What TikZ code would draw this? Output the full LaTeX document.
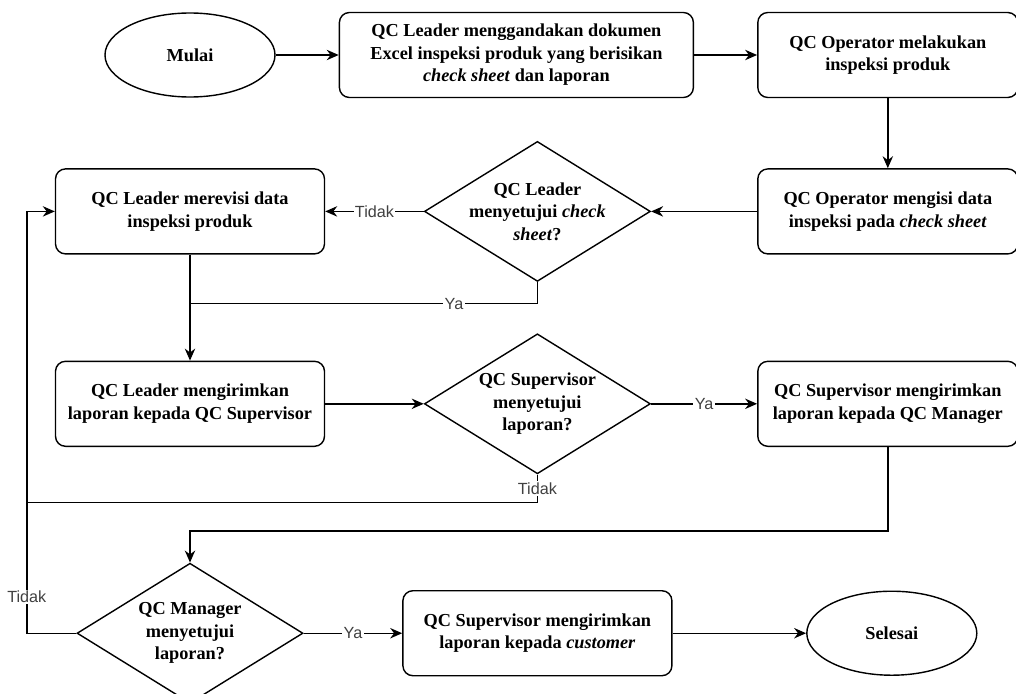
\documentclass[tikz,border=0pt]{standalone}
\usepackage{fontspec}
\setmainfont{Liberation Serif}
\setsansfont{Liberation Sans}
\usetikzlibrary{arrows.meta,positioning,calc,shapes.geometric}

\begin{document}
\begin{tikzpicture}[line width=1pt,
  box/.style={draw, rounded corners=0.25cm, minimum width=#1, minimum height=2.125cm, align=center, inner sep=2pt, font=\bfseries\fontsize{13}{16}\selectfont},
  box/.default=6.5cm,
  term/.style={draw, ellipse, minimum width=4.25cm, minimum height=2.1cm, font=\bfseries\fontsize{13}{16}\selectfont},
  dec/.style={draw, diamond, aspect=1.6, inner ysep=0pt, inner xsep=-0.3cm, minimum width=5.65cm, minimum height=3.5cm, align=center, font=\bfseries\fontsize{13}{16}\selectfont},
  ar/.style={-{Stealth[length=3mm, width=2.6mm]}},
  lbl/.style={fill=white, inner sep=1pt, font=\sffamily\fontsize{11.5}{13}\selectfont, text=black!75}]
\useasboundingbox (0,0) rectangle (25.4,-17.35);
\node[term] (mulai) at (4.75,-1.375) {Mulai};
\node[box=8.85cm, right=1.575cm of mulai] (dup) {QC Leader menggandakan dokumen\\Excel inspeksi produk yang berisikan\\\textit{check sheet} dan laporan};
\node[box, right=1.575cm of dup] (insp) {QC Operator melakukan\\inspeksi produk};
\node[box, below=1.75cm of insp] (isi) {QC Operator mengisi data\\inspeksi pada \textit{check sheet}};
\node[dec, left=2.65cm of isi] (setuju1) {QC Leader\\menyetujui \textit{check}\\\textit{sheet}?};
\node[box=6.725cm] (revisi) at (mulai |- isi) {QC Leader merevisi data\\inspeksi produk};
\node[box=6.725cm, below=2.65cm of revisi] (kirim1) {QC Leader mengirimkan\\laporan kepada QC Supervisor};
\node[dec] (setuju2) at (setuju1 |- kirim1) {QC Supervisor\\menyetujui\\laporan?};
\node[box] (kirim2) at (isi |- kirim1) {QC Supervisor mengirimkan\\laporan kepada QC Manager};
\node[dec, below=2.8875cm of kirim1] (setuju3) {QC Manager\\menyetujui\\laporan?};
\node[box=6.725cm] (kirim3) at (setuju2 |- setuju3) {QC Supervisor mengirimkan\\laporan kepada \textit{customer}};
\node[term, right=3.3375cm of kirim3] (selesai) {Selesai};
% alur utama
\draw[ar] (mulai) -- (dup);
\draw[ar] (dup) -- (insp);
\draw[ar] (insp) -- (isi);
\draw[ar] (isi) -- (setuju1);
\draw[ar] (setuju1) -- node[lbl]{Tidak} (revisi);
\coordinate (ya1) at ($(revisi.south)+(0,-1.225)$);
\draw (setuju1.south) |- node[lbl, pos=0.62]{Ya} (ya1);
\draw[ar] (revisi) -- (kirim1);
\draw[ar] (kirim1) -- (setuju2);
\draw[ar] (setuju2) -- node[lbl]{Ya} (kirim2);
% kembali ke revisi
\coordinate (balik) at ([xshift=-0.7cm]revisi.west);
\draw[ar] (setuju3.west) -| node[lbl, pos=0.543]{Tidak} (balik) -- (revisi.west);
\draw (setuju2.south) -- node[lbl]{Tidak} ++(0,-0.7) coordinate (t2) -- (t2 -| balik);
\draw[ar] (kirim2.south) -- ++(0,-2.1) -| (setuju3.north);
\draw[ar] (setuju3) -- node[lbl]{Ya} (kirim3);
\draw[ar] (kirim3) -- (selesai);
\end{tikzpicture}
\end{document}
